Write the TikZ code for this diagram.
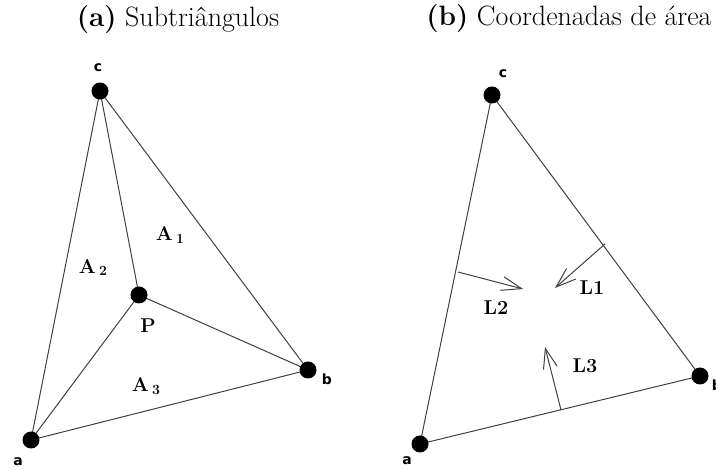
\documentclass[tikz,border=0pt]{standalone}
\usepackage{fontspec}
\newfontfamily\lblfont{DejaVu Sans}
\usetikzlibrary{arrows.meta}
\tikzset{
  edge/.style={draw=black!75, line width=1pt},
  dot/.style={circle, fill=black, inner sep=0pt, minimum size=17pt},
  vlabel/.style={font=\lblfont\bfseries\fontsize{14}{16}\selectfont, inner sep=0pt},
  alabel/.style={font=\bfseries\fontsize{20}{22}\selectfont, inner sep=0pt},
  title/.style={font=\fontsize{28}{32}\selectfont, inner sep=0pt},
  arr/.style={draw=black!75, line width=1pt, -{Straight Barb[length=20pt,width=14pt,line width=1pt]}}
}
\begin{document}
\begin{tikzpicture}[x=1pt,y=-1pt]
\useasboundingbox (0,0) rectangle (716,470);
% titles
\node[title] (ta) at (178,20) {\textbf{(a)} Subtriângulos};
\node[title] (tb) at (569,19) {\textbf{(b)} Coordenadas de área};
% left panel
\coordinate (c1) at (100,91);
\coordinate (a1) at (31,440);
\coordinate (b1) at (308,370);
\coordinate (p1) at (139,295);
\draw[edge] (a1) -- (c1) -- (b1) -- (a1);
\draw[edge] (c1) -- (p1) -- (b1);
\draw[edge] (p1) -- (a1);
\node[dot] (dc1) at (c1) {};
\node[dot] (da1) at (a1) {};
\node[dot] (db1) at (b1) {};
\node[dot] (dp1) at (p1) {};
\node[vlabel] (lc1) at (98,68) {c};
\node[vlabel] (la1) at (18,462) {a};
\node[vlabel] (lb1) at (327,379) {b};
\node[alabel] (lp1) at (148,326) {P};
\node[alabel] (A1) at (170,235) {A\,\raisebox{-3pt}{\fontsize{14}{15}\selectfont 1}};
\node[alabel] (A2) at (93,268) {A\,\raisebox{-2pt}{\fontsize{14}{15}\selectfont 2}};
\node[alabel] (A3) at (146,386) {A\,\raisebox{-3pt}{\fontsize{14}{15}\selectfont 3}};
% right panel
\coordinate (c2) at (492,95);
\coordinate (a2) at (420,444);
\coordinate (b2) at (700,376);
\draw[edge] (a2) -- (c2) -- (b2) -- (a2);
\node[dot] (dc2) at (c2) {};
\node[dot] (da2) at (a2) {};
\node[dot] (db2) at (b2) {};
\node[vlabel] (lc2) at (503,74) {c};
\node[vlabel] (la2) at (407,461) {a};
\node[vlabel] (lb2) at (717,385) {b};
\coordinate (l1s) at (605,244);
\coordinate (l1e) at (555,288);
\coordinate (l2s) at (458,272);
\coordinate (l2e) at (523,289);
\coordinate (l3s) at (561,410);
\coordinate (l3e) at (545,347);
\draw[arr] (l1s) -- (l1e);
\draw[arr] (l2s) -- (l2e);
\draw[arr] (l3s) -- (l3e);
\node[alabel] (L1) at (592,288) {L1};
\node[alabel] (L2) at (496,308) {L2};
\node[alabel] (L3) at (585,366) {L3};
\end{tikzpicture}
\end{document}
